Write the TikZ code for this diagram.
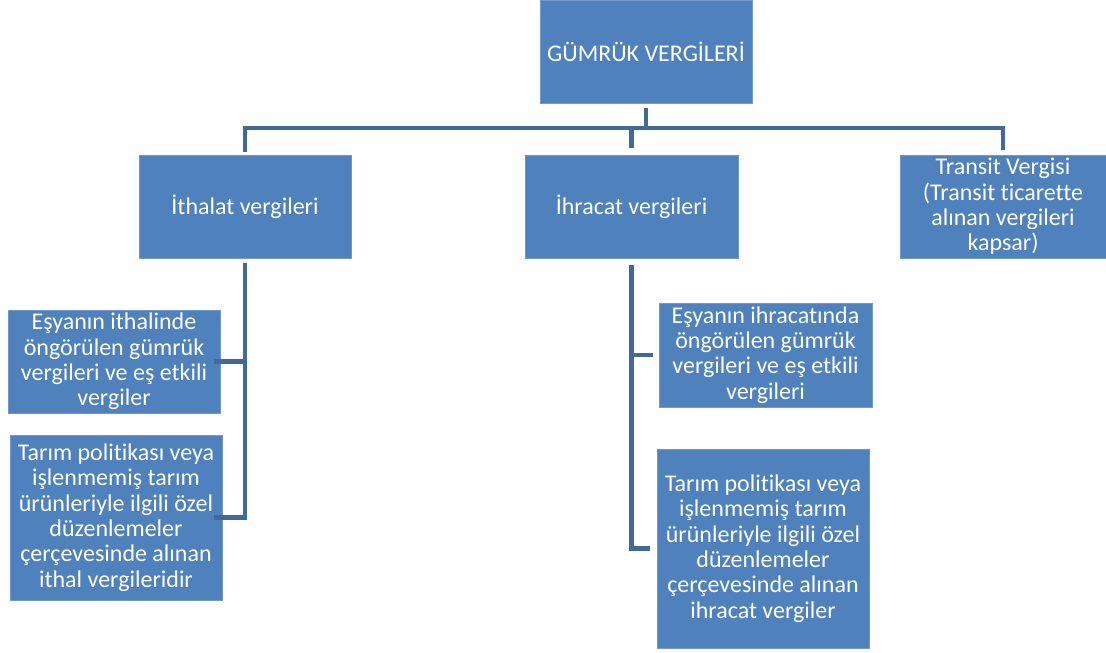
\documentclass[tikz,border=0pt]{standalone}
\usepackage{fontspec}
\setmainfont{Carlito}[Ligatures=NoCommon]
\definecolor{boxblue}{HTML}{4F81BD}
\definecolor{boxedge}{HTML}{6F98CC}
\definecolor{linkblue}{HTML}{41699A}
\begin{document}
\begin{tikzpicture}[x=1pt, y=-1pt]
        \tikzset{taxbox/.style={rectangle, fill=boxblue, draw=boxedge, line width=0.6pt, text=white, align=center, inner sep=0pt, font=\fontsize{24}{25.4}\selectfont},
            link/.style={draw=linkblue, line width=4.5pt}}
        \useasboundingbox (0,0) rectangle (1106,653);
        % ust duzey
        \node[taxbox, minimum width=212pt, minimum height=103pt] (root) at (646,51.5) {GÜMRÜK VERGİLERİ};
        \node[taxbox, minimum width=212pt, minimum height=103pt] (ith) at (245,206.5) {İthalat vergileri};
        \node[taxbox, minimum width=213pt, minimum height=103pt] (ihr) at (631.5,206.5) {İhracat vergileri};
        \node[taxbox, minimum width=206pt, minimum height=103pt] (tra) at (1003,206.5) {Transit Vergisi\\(Transit ticarette\\alınan vergileri\\kapsar)};
        % ithalat alt kutulari
        \node[taxbox, minimum width=212pt, minimum height=103pt] (ithA) at (114,361.5) {Eşyanın ithalinde\\öngörülen gümrük\\vergileri ve eş etkili\\vergiler};
        \node[taxbox, minimum width=212pt, minimum height=165pt] (ithB) at (116,517.5) {Tarım politikası veya\\işlenmemiş tarım\\ürünleriyle ilgili özel\\düzenlemeler\\çerçevesinde alınan\\ithal vergileridir};
        % ihracat alt kutulari
        \node[taxbox, minimum width=213pt, minimum height=104pt] (ihrA) at (765.5,355) {Eşyanın ihracatında\\öngörülen gümrük\\vergileri ve eş etkili\\vergileri};
        \node[taxbox, minimum width=212pt, minimum height=199pt] (ihrB) at (763,548.5) {Tarım politikası veya\\işlenmemiş tarım\\ürünleriyle ilgili özel\\düzenlemeler\\çerçevesinde alınan\\ihracat vergiler};
        % baglantilar
        \coordinate (bar) at (646,128);
        \draw[link] ([yshift=-5pt]root.south) -- (bar);
        \draw[link] ([yshift=3pt]ith.north) |- (bar) -| ([yshift=5pt]tra.north);
        \draw[link] ([yshift=7pt]ihr.north) -- (ihr.north |- bar);
        \draw[link] ([yshift=-5pt]ith.south) |- ([xshift=-6pt]ithA.east);
        \draw[link] ([yshift=-5pt]ith.south) |- ([xshift=-8pt]ithB.east);
        \draw[link] ([yshift=-7pt]ihr.south) |- ([xshift=-6pt]ihrA.west);
        \draw[link] ([yshift=-7pt]ihr.south) |- ([xshift=-7pt]ihrB.west);
    \end{tikzpicture}
\end{document}
